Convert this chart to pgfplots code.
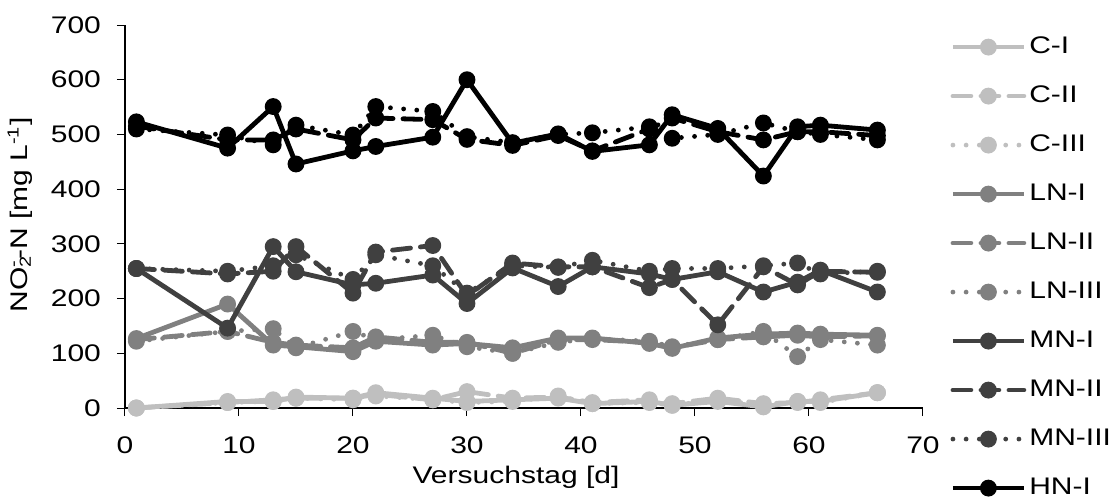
\documentclass[border=0pt]{standalone}
\usepackage{pgfplots}
\pgfplotsset{compat=1.18}
\usepackage{pgfplotstable}
\usepackage{fontspec}
\setmainfont{Liberation Sans}[FakeStretch=1.25]

\definecolor{cC}{HTML}{BFBFBF}
\definecolor{cLN}{HTML}{808080}
\definecolor{cMN}{HTML}{404040}
\definecolor{cHN}{HTML}{000000}

% C group
\pgfplotstableread{
x a b c
1 0 0 0
9 12 10 10
13 12 15 12
15 20 18 18
20 18 18 15
22 28 25 22
27 18 15 15
30 12 30 10
34 15 18 12
38 18 20 22
41 8 10 8
46 12 15 10
48 5 8 5
52 12 18 15
56 2 8 5
59 12 10 12
61 12 15 10
66 28 28 28
}\Cdata
% LN group
\pgfplotstableread{
x a b c
1 127 125 122
9 190 140 140
13 115 120 145
15 112 115 110
20 103 110 140
22 122 130 125
27 115 120 133
30 118 120 112
34 110 100 100
38 128 125 120
41 128 125 127
46 118 120 122
48 109 110 112
52 128 125 125
56 135 130 140
59 137 133 94
61 135 130 125
66 133 132 115
}\LNdata
% MN group
\pgfplotstableread{
x a b c
1 255 255 255
9 146 245 250
13 295 250 260
15 249 295 280
20 225 210 235
22 228 285 280
27 243 297 260
30 191 205 210
34 256 265 260
38 222 258 257
41 258 258 270
46 245 220 250
48 235 235 255
52 249 152 255
56 212 258 260
59 230 225 265
61 252 250 245
66 212 248 250
}\MNdata
% HN group
\pgfplotstableread{
x a b c
1 523 515 510
9 475 490 499
13 551 490 481
15 446 510 517
20 470 490 499
22 478 530 551
27 495 527 542
30 600 491 496
34 484 480 485
38 501 498 500
41 469 470 503
46 481 510 514
48 536 530 493
52 511 505 500
56 424 490 521
59 514 505 505
61 517 505 500
66 508 498 490
}\HNdata

\pgfplotsset{
  ser/.style={color=#1, line width=2.4pt, mark=*, mark size=3pt, mark options={solid, fill=#1}},
  sI/.style={solid},
  sII/.style={dash pattern=on 9pt off 5pt, line cap=round},
  sIII/.style={dash pattern=on 0pt off 6.6pt, line cap=round},
}

\begin{document}
\begin{tikzpicture}
\useasboundingbox (-62.5pt,-46pt) rectangle ++(554.5pt,250pt);
\begin{axis}[
  scale only axis, width=399pt, height=191.5pt,
  xmin=0, xmax=70, ymin=0, ymax=700,
  xtick={0,10,...,70}, ytick={0,100,...,700},
  axis lines*=left,
  tick align=outside, major tick length=4pt,
  tick style={black, line width=0.5pt},
  axis line style={black, line width=0.6pt},
  font=\fontsize{12}{14.4}\selectfont,
  /pgf/number format/assume math mode=true,
  yticklabel style={xshift=-4.5pt},
  xticklabel style={yshift=-7pt},
  xlabel={Versuchstag [d]},
  ylabel={NO\rlap{\textsubscript{2}}\textsuperscript{-}-N [mg L\textsuperscript{-1}]},
  xlabel style={at={(axis description cs:0.49,-0.18)}, anchor=center},
  ylabel style={at={(axis description cs:-0.1316,0.504)}, anchor=center},
  clip=false,
  legend cell align=left,
  legend image code/.code={\draw[mark repeat=2, mark phase=2] plot coordinates {(0pt,0pt)(17.75pt,0pt)(35.5pt,0pt)};},
  legend style={draw=none, fill=none, at={(1.034,0.98)}, anchor=north west,
    inner sep=0pt, row sep=10.5pt,
    nodes={inner sep=1.5pt, text height=8.6pt, text depth=2.4pt},
    font=\fontsize{12}{14.4}\selectfont},
]
\addplot[ser=cC, sI]   table[x=x, y=a] {\Cdata};  \addlegendentry{C-I}
\addplot[ser=cC, sII]  table[x=x, y=b] {\Cdata};  \addlegendentry{C-II}
\addplot[ser=cC, sIII] table[x=x, y=c] {\Cdata};  \addlegendentry{C-III}
\addplot[ser=cLN, sI]   table[x=x, y=a] {\LNdata}; \addlegendentry{LN-I}
\addplot[ser=cLN, sII]  table[x=x, y=b] {\LNdata}; \addlegendentry{LN-II}
\addplot[ser=cLN, sIII] table[x=x, y=c] {\LNdata}; \addlegendentry{LN-III}
\addplot[ser=cMN, sI]   table[x=x, y=a] {\MNdata}; \addlegendentry{MN-I}
\addplot[ser=cMN, sII]  table[x=x, y=b] {\MNdata}; \addlegendentry{MN-II}
\addplot[ser=cMN, sIII] table[x=x, y=c] {\MNdata}; \addlegendentry{MN-III}
\addplot[ser=cHN, sI]   table[x=x, y=a] {\HNdata}; \addlegendentry{HN-I}
\addplot[ser=cHN, sII, forget plot]  table[x=x, y=b] {\HNdata};
\addplot[ser=cHN, sIII, forget plot] table[x=x, y=c] {\HNdata};
\end{axis}
\end{tikzpicture}
\end{document}
